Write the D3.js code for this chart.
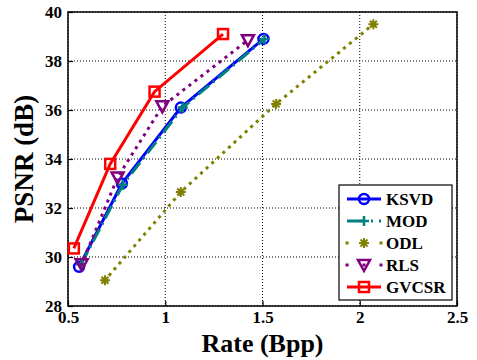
<!DOCTYPE html>
<html>
<head>
<meta charset="utf-8">
<script src="https://cdn.jsdelivr.net/npm/d3@7"></script>
<style>
  body { margin: 0; background: #fff; }
  svg text { font-family: "Liberation Serif", "Times New Roman", Times, serif !important; font-weight: bold; fill: #000; }
</style>
</head>
<body>
<svg id="chart" width="477" height="360"></svg>
<script>
// values
var methods = ["KSVD", "MOD", "ODL", "RLS", "GVCSR"];
var ksvdRate = [0.557, 0.777, 1.08, 1.505];
var ksvdPsnr = [29.6, 33.0, 36.1, 38.9];
var modRate = [0.567, 0.782, 1.09, 1.51];
var modPsnr = [29.7, 32.95, 36.1, 38.9];
var odlRate = [0.69, 1.08, 1.57, 2.07];
var odlPsnr = [29.05, 32.65, 36.25, 39.5];
var rlsRate = [0.57, 0.755, 0.985, 1.425];
var rlsPsnr = [29.7, 33.25, 36.15, 38.85];
var gvcsrRate = [0.53, 0.717, 0.945, 1.297];
var gvcsrPsnr = [30.35, 33.8, 36.75, 39.1];
var xTicks = [0.5, 1, 1.5, 2, 2.5];
var yTicks = [28, 30, 32, 34, 36, 38, 40];

(function(){
var dotted = "0.1,7.5";
var series = [
  {name: "KSVD", x: ksvdRate, y: ksvdPsnr, color: "#0000ff", dash: null, marker: "circle"},
  {name: "MOD", x: modRate, y: modPsnr, color: "#008080", dash: "14,5,2,5", marker: "plus"},
  {name: "ODL", x: odlRate, y: odlPsnr, color: "#808000", dash: dotted, marker: "star"},
  {name: "RLS", x: rlsRate, y: rlsPsnr, color: "#800080", dash: dotted, marker: "tri"},
  {name: "GVCSR", x: gvcsrRate, y: gvcsrPsnr, color: "#ff0000", dash: null, marker: "square"}
];

var svg = d3.select("#chart");
var pLeft = 68, pRight = 457, pTop = 12, pBottom = 306;

var xScale = d3.scaleLinear().domain([0.5, 2.5]).range([pLeft, pRight]);
var yScale = d3.scaleLinear().domain([28, 40]).range([pBottom, pTop]);

//grid
var grid = svg.append("g").attr("class", "grid");
grid.selectAll(".gx").data(xTicks).enter().append("line")
  .attr("x1", function(d){ return xScale(d); }).attr("x2", function(d){ return xScale(d); })
  .attr("y1", pTop).attr("y2", pBottom)
  .attr("stroke", "#000").attr("stroke-width", 1).attr("stroke-dasharray", "1,2");
grid.selectAll(".gy").data(yTicks).enter().append("line")
  .attr("x1", pLeft).attr("x2", pRight)
  .attr("y1", function(d){ return yScale(d); }).attr("y2", function(d){ return yScale(d); })
  .attr("stroke", "#000").attr("stroke-width", 1).attr("stroke-dasharray", "1,2");

//axes
var xAxis = svg.append("g").attr("transform", "translate(0," + pBottom + ")")
  .call(d3.axisBottom(xScale).tickValues(xTicks).tickSizeInner(-5).tickSizeOuter(0).tickPadding(5).tickFormat(d3.format("")));
var yAxis = svg.append("g").attr("transform", "translate(" + pLeft + ",0)")
  .call(d3.axisLeft(yScale).tickValues(yTicks).tickSizeInner(-5).tickSizeOuter(0).tickPadding(6));
[xAxis, yAxis].forEach(function(a){
  a.attr("font-family", null);
  a.selectAll("text").style("font-size", "17px");
  a.selectAll("line").attr("stroke-width", 1.2);
  a.select(".domain").remove();
});
svg.append("rect").attr("x", pLeft).attr("y", pTop).attr("width", pRight - pLeft).attr("height", pBottom - pTop)
  .attr("fill", "none").attr("stroke", "#000").attr("stroke-width", 1.5);

svg.append("text").attr("x", (pLeft + pRight) / 2).attr("y", 352).attr("text-anchor", "middle")
  .style("font-size", "26px").text("Rate (Bpp)");
svg.append("text").attr("transform", "translate(33," + ((pTop + pBottom) / 2) + ") rotate(-90)")
  .attr("text-anchor", "middle").style("font-size", "27px").text("PSNR (dB)");

function drawMarker(g, type, cx, cy, color){
  if(type === "circle"){
    g.append("circle").attr("cx", cx).attr("cy", cy).attr("r", 5)
      .attr("fill", "none").attr("stroke", color).attr("stroke-width", 2.5);
  } else if(type === "square"){
    g.append("rect").attr("x", cx - 5).attr("y", cy - 5).attr("width", 10).attr("height", 10)
      .attr("fill", "none").attr("stroke", color).attr("stroke-width", 2.5);
  } else if(type === "tri"){
    g.append("path").attr("d", "M" + (cx - 6) + "," + (cy - 5) + "L" + (cx + 6) + "," + (cy - 5) + "L" + cx + "," + (cy + 6) + "Z")
      .attr("fill", "none").attr("stroke", color).attr("stroke-width", 2.5);
  } else if(type === "plus"){
    g.append("path").attr("d", "M" + (cx - 5) + "," + cy + "H" + (cx + 5) + "M" + cx + "," + (cy - 5) + "V" + (cy + 5))
      .attr("stroke", color).attr("stroke-width", 2.5);
  } else if(type === "star"){
    g.append("path").attr("d", "M" + (cx - 5) + "," + cy + "H" + (cx + 5) + "M" + cx + "," + (cy - 5) + "V" + (cy + 5)
      + "M" + (cx - 3.5) + "," + (cy - 3.5) + "L" + (cx + 3.5) + "," + (cy + 3.5)
      + "M" + (cx - 3.5) + "," + (cy + 3.5) + "L" + (cx + 3.5) + "," + (cy - 3.5))
      .attr("stroke", color).attr("stroke-width", 2);
  }
}

var lineGen = d3.line().x(function(d){ return xScale(d[0]); }).y(function(d){ return yScale(d[1]); });

series.forEach(function(s){
  var pts = s.x.map(function(v, i){ return [v, s.y[i]]; });
  var g = svg.append("g");
  g.append("path").datum(pts).attr("d", lineGen)
    .attr("fill", "none").attr("stroke", s.color).attr("stroke-width", 3)
    .attr("stroke-linecap", s.dash === dotted ? "square" : "butt")
    .attr("stroke-dasharray", s.dash);
  pts.forEach(function(p){ drawMarker(g, s.marker, xScale(p[0]), yScale(p[1]), s.color); });
});

//legend
var lg = svg.append("g");
lg.append("rect").attr("x", 339).attr("y", 185).attr("width", 113).attr("height", 115)
  .attr("fill", "#fff").attr("stroke", "#000").attr("stroke-width", 1.2);
series.forEach(function(s, i){
  var ly = 199 + i * 22;
  lg.append("line").attr("x1", 347).attr("x2", 381).attr("y1", ly).attr("y2", ly)
    .attr("stroke", s.color).attr("stroke-width", 3)
    .attr("stroke-linecap", s.dash === dotted ? "square" : "butt")
    .attr("stroke-dasharray", s.dash === dotted ? "0.1,16.9" : (s.dash ? "18,6,2,6" : null));
  drawMarker(lg, s.marker, 364, ly, s.color);
  lg.append("text").attr("x", 386).attr("y", ly + 6).style("font-size", "17px").text(s.name);
});
})();
</script>
</body>
</html>
